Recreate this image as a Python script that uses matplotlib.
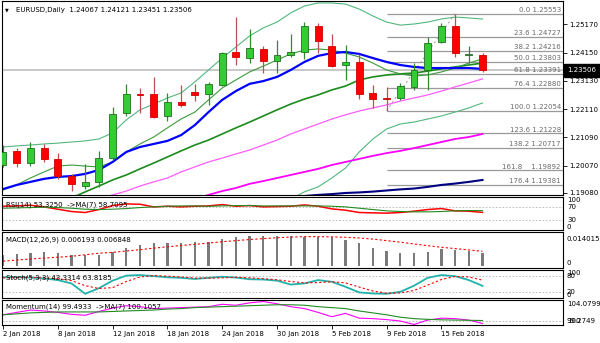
import matplotlib
matplotlib.use("Agg")
import matplotlib.pyplot as plt
from matplotlib.patches import Rectangle
import numpy as np

W, H = 600, 343
FONT = 5

# daily bars, 2 Jan 2018 .. 20 Feb 2018
opens = [1.2009, 1.2061, 1.2015, 1.2069, 1.2030, 1.1970, 1.1934, 1.1947, 1.2033, 1.2196,
         1.2266, 1.2264, 1.2187, 1.2238, 1.2272, 1.2265, 1.2298, 1.2416, 1.2396, 1.2427,
         1.2385, 1.2406, 1.2418, 1.2511, 1.2440, 1.2370, 1.2382, 1.2268, 1.2251, 1.2250,
         1.2292, 1.2352, 1.2452, 1.2511, 1.2405, 1.24067]
highs = [1.2081, 1.2069, 1.2093, 1.2084, 1.2053, 1.1977, 1.2013, 1.2061, 1.2220, 1.2302,
         1.2286, 1.2326, 1.2268, 1.2298, 1.2300, 1.2310, 1.2418, 1.2544, 1.2500, 1.2439,
         1.2460, 1.2481, 1.2526, 1.2521, 1.2481, 1.2442, 1.2410, 1.2298, 1.2290, 1.2304,
         1.2376, 1.2470, 1.2521, 1.25553, 1.2440, 1.24121]
lows = [1.2000, 1.2003, 1.2005, 1.2021, 1.1957, 1.1916, 1.1921, 1.1929, 1.2027, 1.2187,
        1.2198, 1.2178, 1.2168, 1.2217, 1.2240, 1.2226, 1.2294, 1.2370, 1.2376, 1.2342,
        1.2340, 1.2400, 1.2391, 1.2412, 1.2364, 1.2316, 1.2246, 1.2214, 1.22054, 1.2244,
        1.2280, 1.2280, 1.2448, 1.2398, 1.2376, 1.23451]
closes = [1.2057, 1.2017, 1.2069, 1.2030, 1.1969, 1.1939, 1.1946, 1.2033, 1.2193, 1.2265,
          1.2263, 1.2183, 1.2238, 1.2226, 1.2262, 1.2300, 1.2412, 1.2398, 1.2432, 1.2385,
          1.2406, 1.2418, 1.2511, 1.2458, 1.2368, 1.2382, 1.2264, 1.2247, 1.2249, 1.2294,
          1.2352, 1.2451, 1.2511, 1.2414, 1.2410, 1.23506]
last_price = 1.23506

# moving averages and bands on the price chart (None = outside the window)
ma_blue = [1.1922, 1.1937, 1.1948, 1.1959, 1.1966, 1.1969, 1.1977, 1.1991, 1.2020, 1.2056,
           1.2074, 1.2085, 1.2096, 1.2117, 1.2153, 1.2200, 1.2244, 1.2276, 1.2302, 1.2312,
           1.2327, 1.2352, 1.2381, 1.2403, 1.2413, 1.2417, 1.2410, 1.2395, 1.2381, 1.2370,
           1.2363, 1.2359, 1.2359, 1.2359, 1.2359, 1.2356]
ma_green = [1.1919, 1.1937, 1.1962, 1.1984, 1.2005, 1.2009, 1.2005, 1.2002, 1.2020, 1.2056,
            1.2085, 1.2110, 1.2143, 1.2175, 1.2200, 1.2244, 1.2287, 1.2316, 1.2345, 1.2366,
            1.2388, 1.2410, 1.2424, 1.2428, 1.2424, 1.2413, 1.2399, 1.2377, 1.2352, 1.2338,
            1.2330, 1.2334, 1.2345, 1.2359, 1.2377, 1.2392]
bb_mid = [None, None, None, None, None, 1.1890, 1.1912, 1.1933, 1.1955, 1.1973,
          1.1995, 1.2016, 1.2038, 1.2060, 1.2081, 1.2099, 1.2121, 1.2143, 1.2164, 1.2186,
          1.2208, 1.2229, 1.2247, 1.2262, 1.2280, 1.2294, 1.2316, 1.2327, 1.2334, 1.2338,
          1.2341, 1.2348, 1.2356, 1.2363, 1.2370, 1.2377]
bb_upper = [1.2074, 1.2078, 1.2081, 1.2085, 1.2088, 1.2092, 1.2096, 1.2103, 1.2125, 1.2172,
            1.2208, 1.2229, 1.2251, 1.2269, 1.2309, 1.2352, 1.2395, 1.2435, 1.2475, 1.2504,
            1.2525, 1.2558, 1.2583, 1.2594, 1.2594, 1.2590, 1.2572, 1.2547, 1.2525, 1.2514,
            1.2518, 1.2525, 1.2536, 1.2543, 1.2540, 1.2536]
bb_lower = [None] * 21 + [1.1886, 1.1912, 1.1930, 1.1962, 1.1998, 1.2056, 1.2103, 1.2139,
                          1.2157, 1.2164, 1.2175, 1.2186, 1.2200, 1.2215, 1.2233]
ma_pink = [None] * 7 + [1.1886, 1.1901, 1.1915, 1.1933, 1.1948, 1.1962, 1.1984, 1.2002,
                        1.2020, 1.2034, 1.2049, 1.2063, 1.2081, 1.2099, 1.2121, 1.2139,
                        1.2157, 1.2175, 1.2190, 1.2204, 1.2215, 1.2226, 1.2240, 1.2251,
                        1.2262, 1.2276, 1.2291, 1.2305, 1.2320]
ma_magenta = [None] * 14 + [1.1886, 1.1901, 1.1915, 1.1926, 1.1941, 1.1951, 1.1962, 1.1973,
                            1.1984, 1.1995, 1.2009, 1.2020, 1.2031, 1.2042, 1.2052, 1.2060,
                            1.2070, 1.2081, 1.2092, 1.2103, 1.2110, 1.2121]
ma_navy = [None] * 21 + [1.1892, 1.1897, 1.1901, 1.1904, 1.1908, 1.1910, 1.1913, 1.1917,
                         1.1921, 1.1924, 1.1930, 1.1937, 1.1942, 1.1948, 1.1955]

# fibonacci retracement 9 Feb low -> 16 Feb high
fib_levels = ["0.0", "23.6", "38.2", "50.0", "61.8", "76.4", "100.0", "123.6", "138.2", "161.8", "176.4"]
fib_prices = [1.25553, 1.24727, 1.24216, 1.23803, 1.23391, 1.22880, 1.22054, 1.21228, 1.20717, 1.19892, 1.19381]
fib_start = 28
fib_end = 33

price_ticks = [1.25170, 1.24150, 1.23130, 1.22110, 1.21090, 1.20070, 1.19080]

rsi = [72, 73, 75, 70, 63, 56, 53, 62, 74, 79, 78, 70, 72, 70, 72, 73, 77, 72, 74, 70,
       71, 72, 76, 72, 64, 60, 53, 52, 51, 53, 57, 62, 65, 58, 57, 53.325]
rsi_ma = [66, 67, 68, 69, 68, 66, 63, 62, 63, 65, 68, 70, 72, 73, 73, 72, 73, 74, 74, 73,
          73, 73, 73, 73, 72, 70, 66, 62, 58, 56, 55, 55, 56, 58, 59, 58.7095]

macd_hist = [0.0052, 0.0055, 0.0062, 0.0067, 0.0062, 0.0052, 0.0052, 0.0052, 0.0067, 0.0082,
             0.0097, 0.0105, 0.0105, 0.0108, 0.0109, 0.0112, 0.0123, 0.0132, 0.0138, 0.0139,
             0.014015, 0.0138, 0.0135, 0.0135, 0.0132, 0.0120, 0.0105, 0.0085, 0.0070, 0.0062,
             0.0062, 0.0067, 0.0078, 0.0075, 0.0071, 0.006193]
macd_signal = [0.0024, 0.0029, 0.0034, 0.0038, 0.0042, 0.0046, 0.0053, 0.0060, 0.0064, 0.0070,
               0.0076, 0.0083, 0.0089, 0.0095, 0.0100, 0.0106, 0.0112, 0.0117, 0.0122, 0.0126,
               0.0130, 0.0133, 0.0135, 0.0135, 0.0134, 0.0132, 0.0129, 0.0124, 0.0117, 0.0110,
               0.0102, 0.0094, 0.0087, 0.0081, 0.0075, 0.006848]

stoch_k = [74, 74, 73, 70, 64, 52, 15, 35, 62, 80, 82, 78, 74, 72, 68, 72, 76, 73, 67, 66,
           62, 48, 52, 64, 58, 40, 20, 16, 15, 22, 44, 72, 82, 78, 64, 43.3314]
stoch_d = [72, 73, 74, 72, 69, 62, 44, 34, 37, 59, 75, 80, 78, 75, 71, 71, 72, 74, 72, 69,
           65, 59, 54, 55, 58, 54, 39, 25, 17, 18, 27, 46, 66, 77, 75, 63.8185]

momentum = [101.3, 101.8, 102.3, 102.1, 101.8, 101.4, 101.2, 102.0, 102.7, 103.2,
            103.0, 102.6, 102.7, 102.8, 102.9, 103.0, 103.5, 103.3, 103.8, 104.0799,
            103.6, 103.0, 102.6, 101.8, 100.9, 101.6, 100.6, 100.5, 100.3, 100.0,
            99.2749, 100.2, 100.6, 100.5, 100.2, 99.4933]
momentum_ma = [101.3, 101.5, 101.7, 101.8, 101.9, 101.9, 101.9, 101.9, 102.0, 102.1,
               102.2, 102.3, 102.5, 102.6, 102.8, 102.9, 103.0, 103.1, 103.2, 103.3,
               103.4, 103.4, 103.3, 103.0, 102.8, 102.6, 102.1, 101.7, 101.3, 100.8,
               100.5, 100.35, 100.25, 100.2, 100.15, 100.1057]

tick_bars = [0, 4, 8, 12, 16, 20, 24, 28, 32]
tick_labels = ["2 Jan 2018", "8 Jan 2018", "12 Jan 2018", "18 Jan 2018", "24 Jan 2018",
               "30 Jan 2018", "5 Feb 2018", "9 Feb 2018", "15 Feb 2018"]

plt.rcParams['font.family'] = ['DejaVu Sans']

fig = plt.figure(figsize=(W / 100, H / 100), dpi=100)
bars = np.arange(len(closes))
BAR_PX = 13.7
XLIM = (-1 / BAR_PX, 560 / BAR_PX)


def fy(y):
    return 1 - y / H


def add_panel(top, bottom):
    ax = fig.add_axes([2 / W, fy(bottom), 561 / W, (bottom - top) / H])
    ax.set_xlim(*XLIM)
    ax.set_xticks([])
    ax.set_yticks([])
    for s in ax.spines.values():
        s.set_linewidth(0.8)
        s.set_color('black')
    return ax


def arr(v):
    return np.array(v, dtype=float)


def level_line(ax, y):
    ax.axhline(y, color='#b4b4b4', lw=0.6, ls=(0, (2, 2)), zorder=0)


# ---- price chart ----
ax = add_panel(1, 195)
ax.set_ylim(1.19007, 1.26011)
ax.axhline(last_price, color='#c8c8c8', lw=1.4, zorder=0)

for i, (lv, pr) in enumerate(zip(fib_levels, fib_prices)):
    ax.hlines(pr, fib_start, XLIM[1], color='#9a9a9a', lw=0.9, zorder=1)
    gap = "    " if lv == "161.8" else " "
    ax.text(40.72, pr + 0.0003, f"{lv}{gap}{pr:.5f}", ha='right', va='bottom',
            fontsize=FONT, color='#6a6a6a', zorder=2)
ax.plot([fib_start, fib_end], [fib_prices[6], fib_prices[0]], color='#9a9a9a',
        lw=0.7, ls=(0, (2, 3)), zorder=1)

ax.plot(bars, arr(bb_upper), color='#52b77f', lw=0.8, zorder=2)
ax.plot(bars, arr(bb_lower), color='#52b77f', lw=0.8, zorder=2)
ax.plot(bars, arr(ma_navy), color='#000080', lw=1.5, zorder=2)
ax.plot(bars, arr(ma_magenta), color='#ff00ff', lw=1.3, zorder=2)
ax.plot(bars, arr(ma_pink), color='#ff5cff', lw=0.9, zorder=2)
ax.plot(bars, arr(bb_mid), color='#1c8a1c', lw=1.2, zorder=2)
ax.plot(bars, arr(ma_green), color='#3a9a3a', lw=0.8, zorder=2)
ax.plot(bars, arr(ma_blue), color='#0000ff', lw=1.6, zorder=2)

o, h, l, c = arr(opens), arr(highs), arr(lows), arr(closes)
up = c >= o
wick_col = np.where(up, '#2e8b2e', '#c05050')
ax.vlines(bars, l, h, colors=wick_col, lw=0.9, zorder=3)
body_bottom = np.minimum(o, c)
body_h = np.maximum(np.abs(c - o), 0.00015)
ax.bar(bars[up], body_h[up], bottom=body_bottom[up], width=0.5, color='#33cc33',
       edgecolor='#1f6f1f', lw=0.6, zorder=4)
ax.bar(bars[~up], body_h[~up], bottom=body_bottom[~up], width=0.5, color='#ff0000',
       edgecolor='#d00000', lw=0.6, zorder=4)

ax.yaxis.tick_right()
ax.set_yticks(price_ticks)
ax.set_yticklabels([f"{p:.5f}" for p in price_ticks])
ax.tick_params(axis='y', direction='out', length=3, width=0.6, pad=1.5, labelsize=FONT)

# bid price tag
fig.add_artist(Rectangle((564 / W, fy(76.5)), 36 / W, 13 / H, transform=fig.transFigure,
                         facecolor='black', edgecolor='black'))
fig.text(567 / W, fy(70), f"{last_price:.5f}", color='white', fontsize=FONT, va='center')

fig.text(5 / W, fy(9.5), "▼", fontsize=3.5, va='center')
fig.text(16 / W, fy(10), "EURUSD,Daily  " + " ".join(f"{v:.5f}" for v in
         (opens[-1], highs[-1], lows[-1], closes[-1])), fontsize=FONT, va='center')

# ---- RSI ----
ax_rsi = add_panel(197, 230)
ax_rsi.set_ylim(0, 100)
level_line(ax_rsi, 70)
level_line(ax_rsi, 30)
ax_rsi.plot(bars, rsi, color='#ff0000', lw=1.1)
ax_rsi.plot(bars, rsi_ma, color='#228b22', lw=0.8)
ax_rsi.text(0.007, 0.78, f"RSI(14) {rsi[-1]:.4f}  ->MA(7) {rsi_ma[-1]:.4f}",
            transform=ax_rsi.transAxes, fontsize=FONT, va='center')
for txt, yy, va in (("100", 100, 'top'), ("70", 70, 'center'), ("30", 30, 'center'), ("0", 0, 'bottom')):
    ax_rsi.text(1.007, yy, txt, transform=ax_rsi.get_yaxis_transform(), fontsize=FONT, va=va)

# ---- MACD ----
ax_macd = add_panel(232, 268)
ax_macd.set_ylim(-0.00068, 0.0156)
ax_macd.bar(bars, macd_hist, width=0.17, color='#7a7a7a')
ax_macd.plot(bars, macd_signal, color='#ff0000', lw=0.8, ls=(0, (2, 2)))
ax_macd.text(0.007, 0.78, f"MACD(12,26,9) {macd_hist[-1]:.6f} {macd_signal[-1]:.6f}",
             transform=ax_macd.transAxes, fontsize=FONT, va='center')
ax_macd.text(1.007, max(macd_hist), f"{max(macd_hist):.6f}", transform=ax_macd.get_yaxis_transform(),
             fontsize=FONT, va='top')
ax_macd.text(1.007, 0, "0", transform=ax_macd.get_yaxis_transform(), fontsize=FONT, va='bottom')

# ---- Stochastic ----
ax_st = add_panel(270, 298)
ax_st.set_ylim(0, 100)
level_line(ax_st, 80)
level_line(ax_st, 20)
ax_st.plot(bars, stoch_k, color='#20b2aa', lw=1.3)
ax_st.plot(bars, stoch_d, color='#ff0000', lw=0.8, ls=(0, (2, 2)))
ax_st.text(0.007, 0.72, f"Stoch(5,3,3) {stoch_k[-1]:.4f} {stoch_d[-1]:.4f}",
           transform=ax_st.transAxes, fontsize=FONT, va='center')
for txt, yy, va in (("100", 100, 'top'), ("80", 80, 'center'), ("20", 20, 'center'), ("0", 0, 'bottom')):
    ax_st.text(1.007, yy, txt, transform=ax_st.get_yaxis_transform(), fontsize=FONT, va=va)

# ---- Momentum ----
ax_mom = add_panel(300, 325)
ax_mom.set_ylim(99.17, 104.393)
level_line(ax_mom, 100)
ax_mom.plot(bars, momentum, color='#ff00ff', lw=0.8)
ax_mom.plot(bars, momentum_ma, color='#228b22', lw=0.8)
ax_mom.text(0.007, 0.72, f"Momentum(14) {momentum[-1]:.4f}  ->MA(7) {momentum_ma[-1]:.4f}",
            transform=ax_mom.transAxes, fontsize=FONT, va='center')
ax_mom.text(1.007, max(momentum), f"{max(momentum):.4f}", transform=ax_mom.get_yaxis_transform(),
            fontsize=FONT, va='top')
ax_mom.text(1.007, 100, "100", transform=ax_mom.get_yaxis_transform(), fontsize=FONT, va='center')
ax_mom.text(1.007, min(momentum), f"{min(momentum):.4f}", transform=ax_mom.get_yaxis_transform(),
            fontsize=FONT, va='bottom')

ax_mom.set_xticks(tick_bars)
ax_mom.set_xticklabels(tick_labels, ha='left')
ax_mom.tick_params(axis='x', direction='out', length=3, width=0.6, pad=1.5, labelsize=FONT)

fig.savefig("out.png", dpi=100, facecolor='white')
